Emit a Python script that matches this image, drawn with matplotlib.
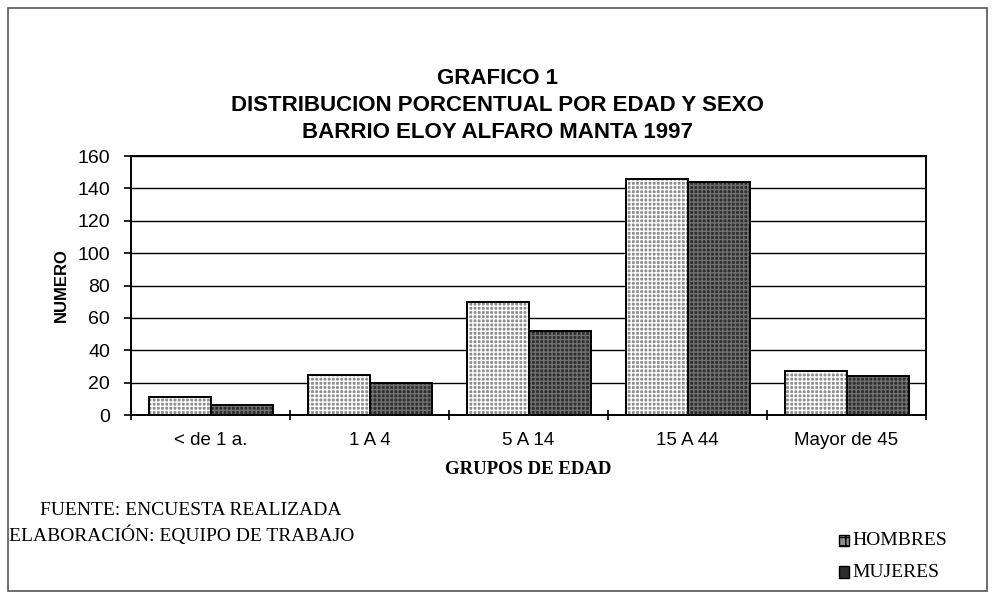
import matplotlib
matplotlib.use("Agg")
import matplotlib.pyplot as plt
from matplotlib.patches import Rectangle
import numpy as np

categories = ["< de 1 a.", "1 A 4", "5 A 14", "15 A 44", "Mayor de 45"]
hombres = [11, 25, 70, 146, 27]
mujeres = [6, 20, 52, 144, 24]
yticks = [0, 20, 40, 60, 80, 100, 120, 140, 160]

fig = plt.figure(figsize=(9.95, 5.98), dpi=100)
ax = fig.add_axes([0.1317, 0.306, 0.799, 0.433])

x = np.arange(len(categories))
w = 0.39

# grid first, bars above
for y in yticks[1:]:
    ax.axhline(y, color="black", lw=1.0, zorder=1)

# hombres: light grey with white grid pattern
ax.bar(x - w / 2, hombres, w, color="#8e8e8e", edgecolor="white", hatch="++++", lw=0, zorder=2)
ax.bar(x - w / 2, hombres, w, fill=False, edgecolor="black", lw=1.4, zorder=3)
# mujeres: dark grey with lighter pattern
ax.bar(x + w / 2, mujeres, w, color="#2e2e2e", edgecolor="#707070", hatch="++++", lw=0, zorder=2)
ax.bar(x + w / 2, mujeres, w, fill=False, edgecolor="black", lw=1.4, zorder=3)

ax.set_xlim(-0.5, len(categories) - 0.5)
ax.set_ylim(0, 160)
ax.set_yticks(yticks)
ax.set_yticklabels([str(v) for v in yticks], fontfamily="Liberation Sans", fontsize=14)
ax.set_xticks(x)
ax.set_xticklabels(categories, fontfamily="Liberation Sans", fontsize=13.5)
ax.set_xticks(np.arange(-0.5, len(categories)), minor=True)
ax.tick_params(axis="x", which="major", length=0, pad=12)
ax.tick_params(axis="x", which="minor", length=7, width=1.2, direction="inout")
ax.tick_params(axis="y", length=5, width=1.2, direction="out", pad=10)
for s in ax.spines.values():
    s.set_linewidth(1.4)

ax.set_ylabel("NUMERO", fontfamily="Liberation Sans", fontweight="bold", fontsize=12, labelpad=6)
ax.set_xlabel("GRUPOS DE EDAD", fontfamily="Liberation Serif", fontweight="bold", fontsize=13.5, labelpad=9)

title_kw = dict(ha="center", va="center", fontfamily="Liberation Sans", fontweight="bold", fontsize=16)
fig.text(0.5, 0.869, "GRAFICO 1", **title_kw)
fig.text(0.5, 0.824, "DISTRIBUCION PORCENTUAL POR EDAD Y SEXO", **title_kw)
fig.text(0.5, 0.779, "BARRIO ELOY ALFARO MANTA 1997", **title_kw)

fig.text(0.04, 0.147, "FUENTE: ENCUESTA REALIZADA", ha="left", va="center",
         fontfamily="Liberation Serif", fontsize=14)
fig.text(0.009, 0.105, "ELABORACIÓN: EQUIPO DE TRABAJO", ha="left", va="center",
         fontfamily="Liberation Serif", fontsize=14)

# legend
fig.patches.append(Rectangle((0.843, 0.087), 0.010, 0.019, transform=fig.transFigure,
                             facecolor="#8e8e8e", edgecolor="black", hatch="++", lw=1))
fig.text(0.857, 0.096, "HOMBRES", ha="left", va="center", fontfamily="Liberation Serif", fontsize=14)
fig.patches.append(Rectangle((0.843, 0.034), 0.010, 0.019, transform=fig.transFigure,
                             facecolor="#2e2e2e", edgecolor="black", lw=1))
fig.text(0.857, 0.043, "MUJERES", ha="left", va="center", fontfamily="Liberation Serif", fontsize=14)

# outer frame
fig.patches.append(Rectangle((0.008, 0.012), 0.984, 0.975, transform=fig.transFigure,
                             fill=False, edgecolor="#555555", lw=1.2))

fig.savefig("out.png", dpi=100)
